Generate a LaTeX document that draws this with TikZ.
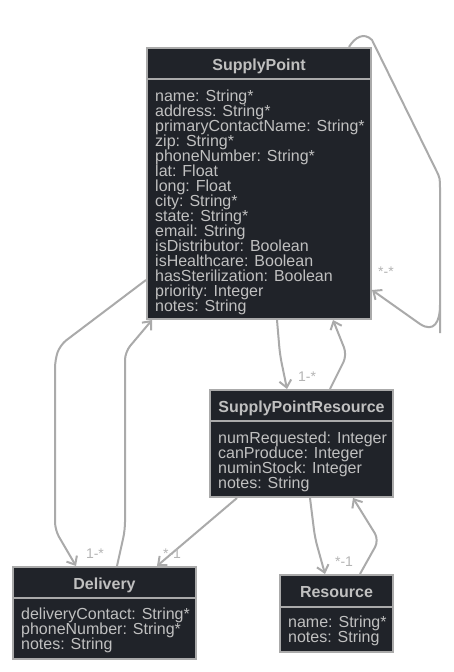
\documentclass[tikz,border=0pt]{standalone}
\usepackage{fontspec}
\setmainfont{Liberation Sans}
\usetikzlibrary{arrows.meta}
\definecolor{boxfill}{RGB}{32,35,41}
\definecolor{edgegray}{RGB}{170,170,170}
\definecolor{txtgray}{RGB}{192,192,192}
\definecolor{lblgray}{RGB}{180,180,180}
\tikzset{
  cls/.style={draw=edgegray, fill=boxfill, line width=2pt, inner sep=0pt, rectangle},
  clstitle/.style={text=txtgray, font=\fontsize{16}{15}\selectfont\bfseries, inner sep=0pt, anchor=base},
  attrs/.style={text=txtgray, font=\fontsize{16}{15}\selectfont, align=left, inner sep=0pt, anchor=base west},
  divider/.style={draw=edgegray, line width=2pt},
  conn/.style={draw=edgegray, line width=2pt, rounded corners=8pt, -{Straight Barb[length=7pt,width=12pt]}},
  lbl/.style={text=lblgray, font=\fontsize{14}{14}\selectfont, inner sep=0pt}
}
\begin{document}
\begin{tikzpicture}[x=1pt,y=-1pt]
\useasboundingbox[fill=white] (0,0) rectangle (454,672);

% SupplyPoint
\node[cls, minimum width=224pt, minimum height=271pt] (sp) at (259,183.5) {};
\node[clstitle] (sptitle) at (259,70) {SupplyPoint};
\draw[divider] (sp.west |- 0,79) -- (sp.east |- 0,79);
\node[attrs] (spattrs) at (155,311) {name: String*\\address: String*\\primaryContactName: String*\\zip: String*\\phoneNumber: String*\\lat: Float\\long: Float\\city: String*\\state: String*\\email: String\\isDistributor: Boolean\\isHealthcare: Boolean\\hasSterilization: Boolean\\priority: Integer\\notes: String};

% SupplyPointResource
\node[cls, minimum width=183pt, minimum height=107pt] (spr) at (301.5,443.5) {};
\node[clstitle] (sprtitle) at (301.5,412) {SupplyPointResource};
\draw[divider] (spr.west |- 0,421) -- (spr.east |- 0,421);
\node[attrs] (sprattrs) at (218,488) {numRequested: Integer\\canProduce: Integer\\numinStock: Integer\\notes: String};

% Delivery
\node[cls, minimum width=183pt, minimum height=92pt] (d) at (104.5,613) {};
\node[clstitle] (dtitle) at (104.5,589) {Delivery};
\draw[divider] (d.west |- 0,598) -- (d.east |- 0,598);
\node[attrs] (dattrs) at (21,649) {deliveryContact: String*\\phoneNumber: String*\\notes: String};

% Resource
\node[cls, minimum width=113pt, minimum height=77pt] (r) at (336.5,613.5) {};
\node[clstitle] (rtitle) at (336.5,597) {Resource};
\draw[divider] (r.west |- 0,607) -- (r.east |- 0,607);
\node[attrs] (rattrs) at (288,642) {name: String*\\notes: String};

% Connectors
% SupplyPoint -> Delivery
\draw[conn] (sp.west |- 0,280) -- (60,345) -- (55,360) -- (55,530) -- (d.north -| 76,0);
% Delivery -> SupplyPoint
\draw[conn] (d.north -| 117,0) -- (125,530) -- (125,352) -- (sp.south -| 152,0);
% SupplyPoint -> SupplyPointResource
\draw[conn] (sp.south -| 277,0) -- (280,355) -- (spr.north -| 287,0);
% SupplyPointResource -> SupplyPoint
\draw[conn] (spr.north -| 330,0) -- (347,355) -- (sp.south -| 333,0);
% SupplyPointResource -> Delivery
\draw[conn] (spr.south -| 237,0) -- (d.north -| 157,0);
% SupplyPointResource -> Resource
\draw[conn] (spr.south -| 310,0) -- (315,538) -- (r.north -| 325,0);
% Resource -> SupplyPointResource
\draw[conn] (r.north -| 360,0) -- (379,540) -- (spr.south -| 353,0);
% SupplyPoint self loop
\draw[draw=edgegray, line width=2pt, -{Straight Barb[length=7pt,width=12pt]}]
  (sp.north -| 349,0) .. controls (355,37) and (364,32) .. (372,40)
  -- (436,170) .. controls (440,178) .. (440,190) -- (440,333)
  (440,305) .. controls (440,322) and (434,333) .. (420,324) -- (sp.east |- 0,290);

% Labels
\node[lbl] (l1) at (386,272) {*-*};
\node[lbl] (l2) at (307,377) {1-*};
\node[lbl] (l3) at (95,554) {1-*};
\node[lbl] (l4) at (172,554) {*-1};
\node[lbl] (l5) at (344,562) {*-1};
\end{tikzpicture}
\end{document}
